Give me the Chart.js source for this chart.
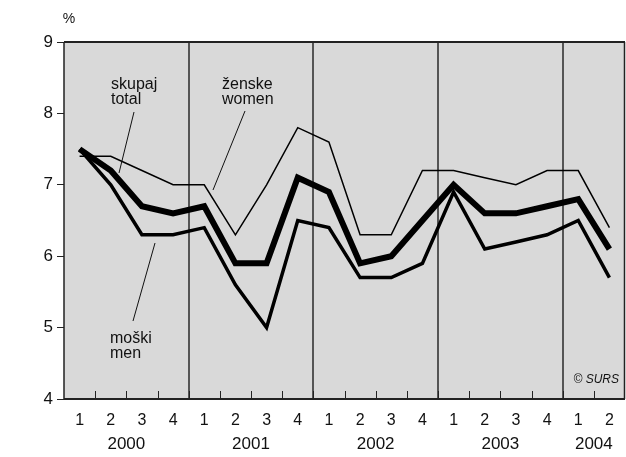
<!DOCTYPE html>
<html>
<head>
<meta charset="utf-8">
<style>
  html, body { margin: 0; padding: 0; background: #fff; }
  canvas { display: block; }
</style>
<script src="https://cdn.jsdelivr.net/npm/chart.js@4"></script>
</head>
<body>
<canvas id="chart" width="626" height="457"></canvas>
<script>
const quarters = ['1', '2', '3', '4', '1', '2', '3', '4', '1', '2', '3', '4', '1', '2', '3', '4', '1', '2'];
const years = ['2000', '2001', '2002', '2003', '2004'];
const yearSpans = [4, 4, 4, 4, 2];

const total = [7.5, 7.2, 6.7, 6.6, 6.7, 5.9, 5.9, 7.1, 6.9, 5.9, 6.0, 6.5, 7.0, 6.6, 6.6, 6.7, 6.8, 6.1];
const women = [7.4, 7.4, 7.2, 7.0, 7.0, 6.3, 7.0, 7.8, 7.6, 6.3, 6.3, 7.2, 7.2, 7.1, 7.0, 7.2, 7.2, 6.4];
const men = [7.5, 7.0, 6.3, 6.3, 6.4, 5.6, 5.0, 6.5, 6.4, 5.7, 5.7, 5.9, 6.9, 6.1, 6.2, 6.3, 6.5, 5.7];

const FONT = '"Liberation Sans", Arial, Helvetica, sans-serif';
const NARROW = '"Liberation Sans Narrow", "Liberation Sans", Arial, sans-serif';

// gray plot background
const background = {
  id: 'background',
  beforeDraw(chart) {
    const { ctx, chartArea: a } = chart;
    ctx.save();
    ctx.fillStyle = '#d9d9d9';
    ctx.fillRect(a.left, a.top, a.right - a.left, a.bottom - a.top);
    ctx.restore();
  }
};

// frame, inner ticks, year labels, series labels
const extras = {
  id: 'extras',
  afterDatasetsDraw(chart) {
    const { ctx, chartArea: a } = chart;
    const x = chart.scales.x;
    ctx.save();

    // small ticks between quarters, pointing up into the plot
    ctx.strokeStyle = '#222';
    ctx.lineWidth = 1;
    for (let i = 1; i < quarters.length; i++) {
      const px = Math.round((x.getPixelForValue(i - 1) + x.getPixelForValue(i)) / 2) + 0.5;
      ctx.beginPath();
      ctx.moveTo(px, a.bottom);
      ctx.lineTo(px, a.bottom - 8);
      ctx.stroke();
    }

    // frame
    ctx.strokeStyle = '#222';
    ctx.lineWidth = 2;
    ctx.beginPath();
    ctx.moveTo(a.left, a.top);
    ctx.lineTo(a.right, a.top);
    ctx.moveTo(a.left, a.bottom);
    ctx.lineTo(a.right, a.bottom);
    ctx.stroke();
    ctx.lineWidth = 1.5;
    ctx.beginPath();
    ctx.moveTo(a.left, a.top);
    ctx.lineTo(a.left, a.bottom);
    ctx.moveTo(a.right - 0.5, a.top);
    ctx.lineTo(a.right - 0.5, a.bottom);
    ctx.stroke();

    // years under the quarters
    ctx.fillStyle = '#111';
    ctx.font = '17px ' + NARROW;
    ctx.textAlign = 'center';
    ctx.textBaseline = 'middle';
    let start = 0;
    years.forEach((yr, k) => {
      const end = start + yearSpans[k] - 1;
      const cx = (x.getPixelForValue(start) + x.getPixelForValue(end)) / 2;
      ctx.fillText(yr, cx, 444);
      start += yearSpans[k];
    });

    // unit
    ctx.font = '14px ' + FONT;
    ctx.fillText('%', 69, 19);

    // series labels with leader lines
    ctx.font = '16px ' + FONT;
    ctx.textAlign = 'left';
    ctx.textBaseline = 'alphabetic';
    ctx.fillText('skupaj', 111, 89);
    ctx.fillText('total', 111, 104);
    ctx.fillText('ženske', 222, 89);
    ctx.fillText('women', 222, 104);
    ctx.fillText('moški', 110, 343);
    ctx.fillText('men', 110, 358);

    ctx.strokeStyle = '#111';
    ctx.lineWidth = 1;
    [[134, 112, 119, 173], [245, 111, 213, 190], [155, 243, 133, 321]].forEach(l => {
      ctx.beginPath();
      ctx.moveTo(l[0], l[1]);
      ctx.lineTo(l[2], l[3]);
      ctx.stroke();
    });

    ctx.font = 'italic 12px ' + FONT;
    ctx.textAlign = 'right';
    ctx.fillText('© SURS', 619, 383);
    ctx.restore();
  }
};

new Chart(document.getElementById('chart').getContext('2d'), {
  type: 'line',
  data: {
    labels: quarters,
    datasets: [
      { label: 'ženske / women', data: women, borderColor: '#000', borderWidth: 1.5 },
      { label: 'moški / men', data: men, borderColor: '#000', borderWidth: 3.5 },
      { label: 'skupaj / total', data: total, borderColor: '#000', borderWidth: 6 }
    ]
  },
  options: {
    responsive: false,
    animation: false,
    layout: { padding: { top: 42, right: 1, left: 0, bottom: 0 } },
    elements: {
      point: { radius: 0 },
      line: { tension: 0, borderJoinStyle: 'miter', borderCapStyle: 'butt', fill: false }
    },
    plugins: { legend: { display: false }, tooltip: { enabled: false } },
    scales: {
      x: {
        offset: true,
        afterFit(s) { s.height = 58; },
        border: { display: false },
        grid: {
          offset: true,
          drawTicks: false,
          color: c => (c.index > 0 && c.index < quarters.length && c.index % 4 === 0) ? '#555' : 'rgba(0,0,0,0)',
          lineWidth: 2
        },
        ticks: {
          autoSkip: false,
          maxRotation: 0,
          padding: 12,
          color: '#111',
          font: { family: NARROW, size: 16 }
        }
      },
      y: {
        min: 4,
        max: 9,
        afterFit(s) { s.width = 64; },
        border: { display: false },
        grid: { drawOnChartArea: false, tickLength: 7, color: '#222' },
        ticks: {
          stepSize: 1,
          padding: 4,
          color: '#111',
          font: { family: FONT, size: 17 }
        }
      }
    }
  },
  plugins: [background, extras]
});
</script>
</body>
</html>
